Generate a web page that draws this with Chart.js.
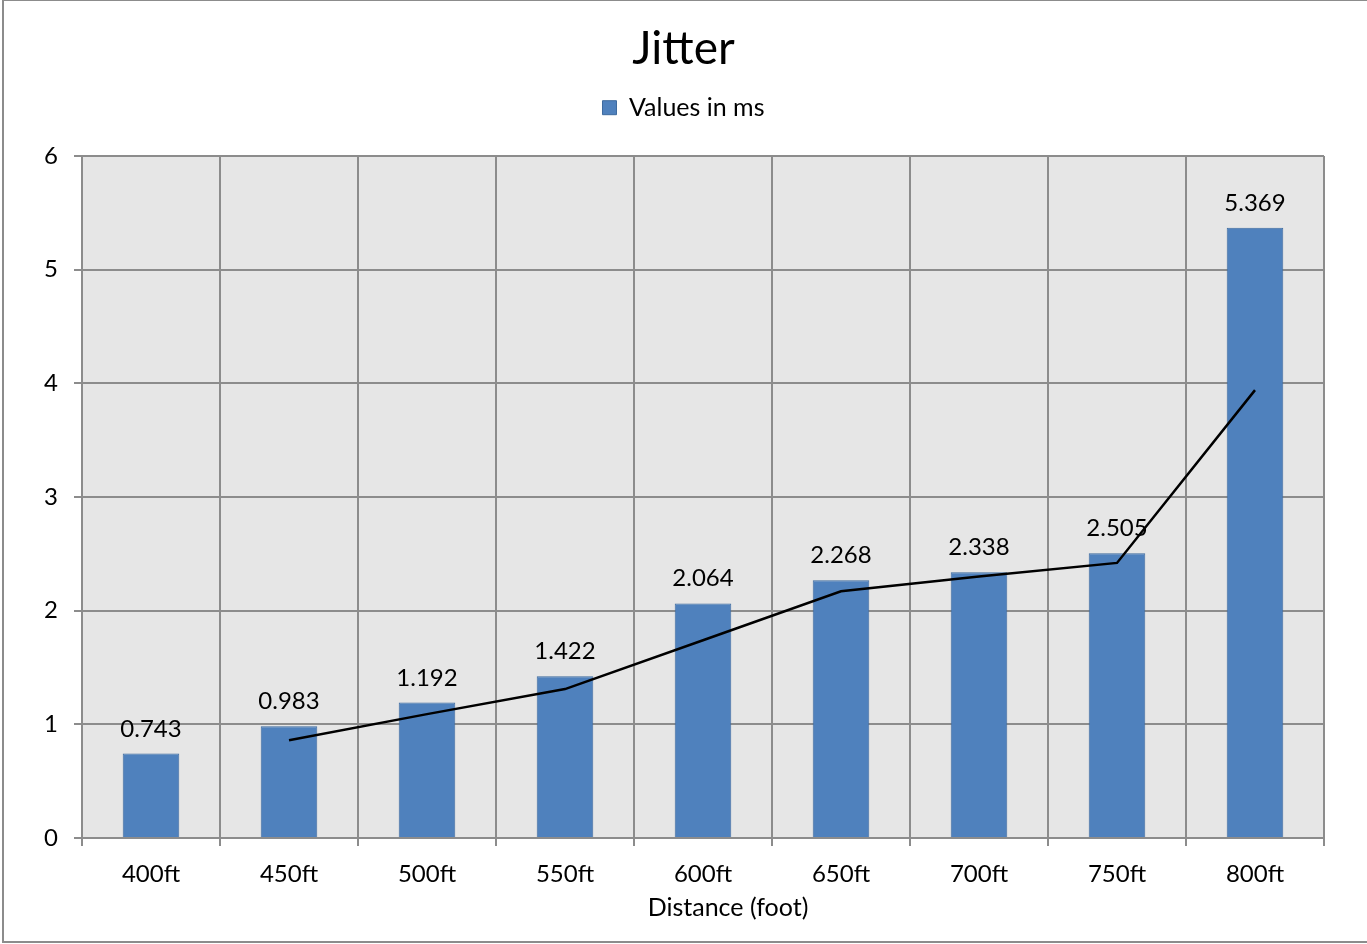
<!DOCTYPE html>
<html>
<head>
<meta charset="utf-8">
<title>Jitter</title>
<script src="https://cdn.jsdelivr.net/npm/chart.js@4/dist/chart.umd.min.js"></script>
<style>
  html, body { margin: 0; padding: 0; background: #ffffff; }
  #wrap { width: 1367px; height: 944px; position: relative; }
</style>
</head>
<body>
<div id="wrap"><canvas id="jitter" width="1367" height="944"></canvas></div>
<script>
// Measured jitter per distance (ms)
const distances = ['400ft', '450ft', '500ft', '550ft', '600ft', '650ft', '700ft', '750ft', '800ft'];
const jitterMs = [0.743, 0.983, 1.192, 1.422, 2.064, 2.268, 2.338, 2.505, 5.369];
// Two-point moving-average trend line (starts at the second category)
const trendMs = [null, 0.86, 1.09, 1.31, 1.74, 2.17, 2.30, 2.42, 3.94];
const yTicks = [0, 1, 2, 3, 4, 5, 6];

const FONT = 'Lato, "Open Sans", "Liberation Sans", sans-serif';
const GRID = '#8c8c8c';

// Chart frame, plot background, value labels and the axis title
const decorations = {
  id: 'decorations',
  beforeDraw(chart) {
    const { ctx, chartArea: a } = chart;
    ctx.save();
    ctx.fillStyle = '#ffffff';
    ctx.fillRect(0, 0, chart.width, chart.height);
    ctx.fillStyle = '#e6e6e6';
    ctx.fillRect(a.left, a.top, a.right - a.left, a.bottom - a.top);
    ctx.strokeStyle = '#8c8c8c';
    ctx.lineWidth = 2;
    ctx.strokeRect(3, 0, chart.width + 10, 942);
    ctx.restore();
  },
  afterDatasetsDraw(chart) {
    const { ctx } = chart;
    const meta = chart.getDatasetMeta(1);
    ctx.save();
    ctx.font = '24px ' + FONT;
    ctx.fillStyle = '#000000';
    ctx.textAlign = 'center';
    ctx.textBaseline = 'alphabetic';
    meta.data.forEach((bar, i) => {
      ctx.fillText(jitterMs[i].toFixed(3), bar.x, bar.y - 17);
    });
    // x axis title
    ctx.font = '25px ' + FONT;
    ctx.textBaseline = 'middle';
    ctx.fillText('Distance (foot)', 728, 908);
    ctx.restore();
  }
};

new Chart(document.getElementById('jitter'), {
  data: {
    labels: distances,
    datasets: [
      {
        type: 'line',
        label: 'Trend',
        data: trendMs,
        borderColor: '#000000',
        borderWidth: 2.5,
        pointRadius: 0,
        fill: false,
        tension: 0
      },
      {
        type: 'bar',
        label: 'Values in ms',
        data: jitterMs,
        backgroundColor: '#4f81bd',
        borderColor: '#3d6a9e',
        borderWidth: 1,
        categoryPercentage: 1,
        barPercentage: 0.41
      }
    ]
  },
  options: {
    responsive: false,
    animation: false,
    events: [],
    layout: { padding: { left: 43, right: 43, top: 0, bottom: 0 } },
    plugins: {
      title: {
        display: true,
        text: 'Jitter',
        color: '#000000',
        font: { family: FONT, size: 46, weight: 'normal' },
        padding: { top: 22, bottom: 8 }
      },
      // empty spacer between the legend and the plot
      subtitle: {
        display: true,
        text: '',
        weight: 500,
        font: { size: 1 },
        padding: { top: 24.6, bottom: 0 }
      },
      legend: {
        display: true,
        position: 'top',
        labels: {
          filter: (item) => item.text === 'Values in ms',
          color: '#000000',
          font: { family: FONT, size: 25 },
          boxWidth: 14,
          boxHeight: 14,
          padding: 10,
          useBorderRadius: false
        }
      },
      tooltip: { enabled: false }
    },
    scales: {
      x: {
        type: 'category',
        offset: true,
        grid: {
          offset: true,
          color: GRID,
          lineWidth: 2,
          drawTicks: true,
          tickLength: 8,
          tickColor: GRID
        },
        border: { color: GRID, width: 2 },
        ticks: {
          color: '#000000',
          font: { family: FONT, size: 24 },
          padding: 14,
          maxRotation: 0
        },
        afterFit(scale) { scale.height = 106; }
      },
      y: {
        min: 0,
        max: 6,
        afterBuildTicks(scale) { scale.ticks = yTicks.map(v => ({ value: v })); },
        grid: {
          color: GRID,
          lineWidth: 2,
          drawTicks: true,
          tickLength: 8,
          tickColor: GRID
        },
        border: { color: GRID, width: 2 },
        ticks: {
          color: '#000000',
          font: { family: FONT, size: 24 },
          padding: 16
        },
        afterFit(scale) { scale.width = 39; }
      }
    }
  },
  plugins: [decorations]
});
</script>
</body>
</html>
